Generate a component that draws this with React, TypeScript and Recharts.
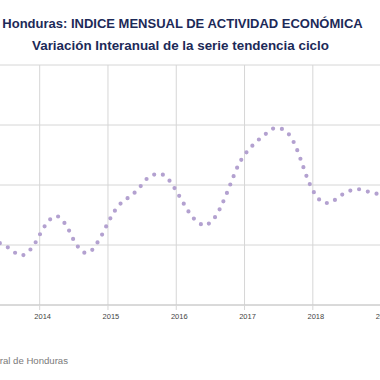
import React from 'react';
import { LineChart, Line, XAxis, YAxis, CartesianGrid } from 'recharts';

// months counted from Jan 2014 (0 = Jan 2014)
const months = [
  -7, -6, -5, -4, -3, -2, -1, 0, 1, 2, 3, 4, 5, 6, 7, 8, 9, 10, 11,
  12, 13, 14, 15, 16, 17, 18, 19, 20, 21, 22, 23,
  24, 25, 26, 27, 28, 29, 30, 31, 32, 33, 34, 35,
  36, 37, 38, 39, 40, 41, 42, 43, 44, 45, 46, 47,
  48, 49, 50, 51, 52, 53, 54, 55, 56, 57, 58, 59, 60, 61,
];

// variación interanual (%)
const variacion = [
  3.03, 2.98, 2.93, 2.85, 2.83, 2.89, 3.0, 3.17, 3.33, 3.44, 3.48, 3.41, 3.27, 3.08, 2.94, 2.87, 2.9, 3.02, 3.18,
  3.37, 3.54, 3.67, 3.75, 3.82, 3.9, 4.01, 4.12, 4.17, 4.19, 4.15, 4.05,
  3.9, 3.74, 3.58, 3.45, 3.37, 3.32, 3.38, 3.49, 3.67, 3.89, 4.13, 4.35,
  4.5, 4.62, 4.71, 4.8, 4.87, 4.94, 4.95, 4.91, 4.82, 4.64, 4.39, 4.12,
  3.91, 3.77, 3.7, 3.7, 3.76, 3.83, 3.88, 3.92, 3.93, 3.91, 3.88, 3.86, 3.83, 3.8,
];

const yearTicks = [0, 12, 24, 36, 48, 60];
const yTicks = [2, 3, 4, 5, 6];

const data = months.map((t, i) => ({ t, v: variacion[i] }));

const YearTick = (props: any) => {
  const { x, y, payload } = props;
  return (
    <text x={x + 3} y={y + 7} textAnchor="middle" fontSize={7.5} fill="#444" fontFamily="'Liberation Sans', Arial, sans-serif">
      {2014 + payload.value / 12}
    </text>
  );
};

export default function App() {
  return (
    <div
      style={{
        position: 'fixed',
        top: 0,
        left: 0,
        width: 380,
        height: 380,
        overflow: 'hidden',
        background: '#fff',
        fontFamily: "'Liberation Sans', Arial, sans-serif",
      }}
    >
      <div style={{ position: 'absolute', top: 16, left: 0, width: 365, textAlign: 'center', fontSize: 13, fontWeight: 700, color: '#1c2a58', whiteSpace: 'nowrap' }}>
        Honduras: INDICE MENSUAL DE ACTIVIDAD ECONÓMICA
      </div>
      <div style={{ position: 'absolute', top: 38, left: 0, width: 361, textAlign: 'center', fontSize: 13.4, fontWeight: 700, color: '#1c2a58', whiteSpace: 'nowrap' }}>
        Variación Interanual de la serie tendencia ciclo
      </div>

      <div style={{ position: 'absolute', top: 0, left: -2.7 }}>
        <LineChart width={395.5} height={340} data={data} margin={{ top: 65, right: 0, bottom: 5, left: 0 }}>
          <CartesianGrid stroke="#d6d6d6" strokeWidth={1} />
          <XAxis
            dataKey="t"
            type="number"
            domain={[-7.5, 62]}
            ticks={yearTicks}
            allowDataOverflow
            height={30}
            axisLine={{ stroke: '#c8c8c8' }}
            tickLine={{ stroke: '#d6d6d6' }}
            tickSize={5}
            tick={<YearTick />}
            interval={0}
          />
          <YAxis hide domain={[2, 6]} ticks={yTicks} allowDataOverflow />
          <Line
            type="monotone"
            dataKey="v"
            stroke="#b3a1d0"
            strokeWidth={4.2}
            strokeDasharray="0 9"
            strokeLinecap="round"
            dot={false}
            activeDot={false}
            isAnimationActive={false}
          />
        </LineChart>
      </div>

      <div style={{ position: 'absolute', top: 355, right: 312, fontSize: 9.6, color: '#7a7a7a', whiteSpace: 'nowrap' }}>
        Fuente: Banco Central de Honduras
      </div>
    </div>
  );
}
